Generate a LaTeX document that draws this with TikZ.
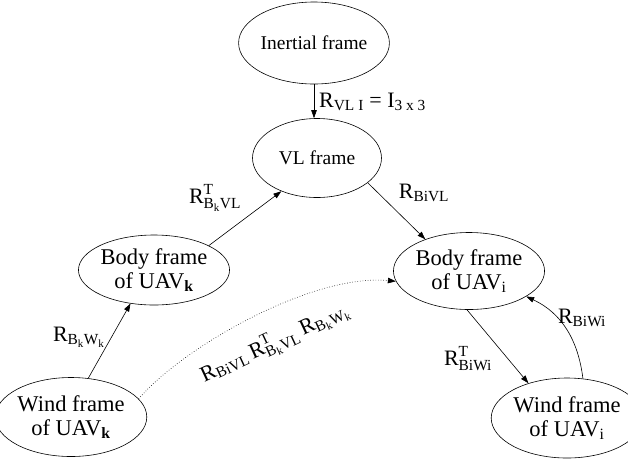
\documentclass[tikz,border=0pt]{standalone}
\usepackage{amsmath}
\usepackage{fontspec}
\setmainfont{Liberation Serif}
\usetikzlibrary{shapes.geometric,arrows.meta}

\tikzset{
  frame/.style={draw, ellipse, line width=0.6pt, inner sep=0pt, align=center,
    font=\fontsize{19.5}{23}\selectfont},
  bigframe/.style={frame, font=\fontsize{22.5}{24}\selectfont},
  conn/.style={line width=0.6pt, -{Triangle[length=8pt,width=5.5pt]}},
  lbl/.style={font=\fontsize{22}{24}\selectfont, inner sep=0pt}
}

\begin{document}
\begin{tikzpicture}[x=1pt, y=-1pt]
  \useasboundingbox (0,0) rectangle (628,459);

  % reference frames
  \node[frame, minimum width=130pt, minimum height=82pt] (inertial) at (314,43) {Inertial frame};
  \node[frame, minimum width=129pt, minimum height=79pt] (vl) at (317,158) {VL frame};
  \node[bigframe, minimum width=132pt, minimum height=70pt] (bodyk) at (154,270) {Body frame\\of UAV$_{\text{\textbf{k}}}$};
  \node[bigframe, minimum width=128pt, minimum height=77pt] (bodyi) at (469,271) {Body frame\\of UAV$_{\text{i}}$};
  \node[bigframe, minimum width=128pt, minimum height=79pt] (windk) at (71,417) {Wind frame\\of UAV$_{\text{\textbf{k}}}$};
  \node[bigframe, minimum width=120pt, minimum height=80pt] (windi) at (567,418) {Wind frame\\of UAV$_{\text{i}}$};

  % rotations between frames
  \draw[conn] (inertial.south) -- (inertial.south |- vl.north);
  \draw[conn] (bodyk.24) -- (vl.223);
  \draw[conn] (vl.-26) -- (bodyi.144);
  \draw[conn] (windk.66) -- (bodyk.235);
  \draw[conn] (bodyi.267) -- (windi.138);
  \draw[conn] (windi.68) to[out=97, in=-25] (bodyi.-24);
  \draw[conn, dotted] (windk.15) .. controls +(42,-50) and +(-85,-8) .. (bodyi.188);

  % rotation matrices
  \node[lbl, anchor=west] (rvli) at (319,102) {R$_{\text{VL I}}$ = I$_{\text{3 x 3}}$};
  \node[lbl] (rbkvl) at (215,198) {$\text{R}^{\text{T}}_{\text{B}_{\text{k}}\text{VL}}$};
  \node[lbl] (rbivl) at (424,193) {$\text{R}_{\text{BiVL}}$};
  \node[lbl] (rbkwk) at (79,337) {$\text{R}_{\text{B}_{\text{k}}\text{W}_{\text{k}}}$};
  \node[lbl] (rtbiwi) at (468,359) {$\text{R}^{\text{T}}_{\text{BiWi}}$};
  \node[lbl] (rbiwi) at (582,318) {$\text{R}_{\text{BiWi}}$};
  \node[lbl, rotate=25] (chain) at (275,343)
    {$\text{R}_{\text{BiVL}}\,\text{R}^{\text{T}}_{\text{B}_{\text{k}}\text{VL}}\,\text{R}_{\text{B}_{\text{k}}\text{W}_{\text{k}}}$};
\end{tikzpicture}
\end{document}
